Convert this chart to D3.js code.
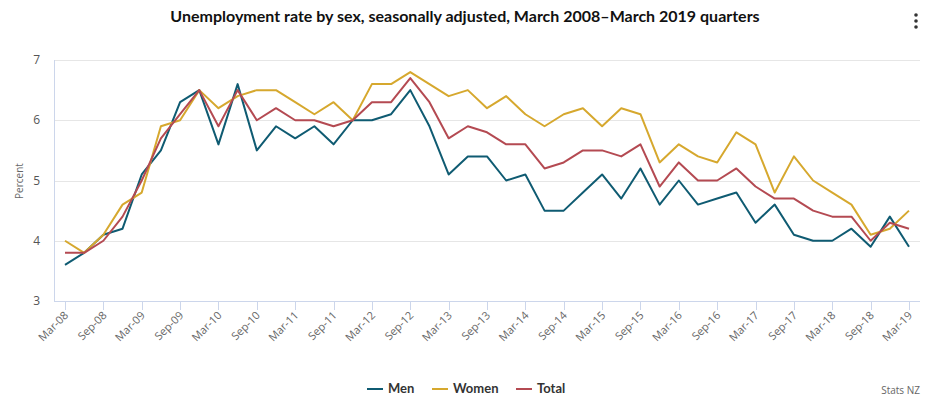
<!DOCTYPE html>
<html lang="en">
<head>
  <meta charset="UTF-8" />
  <title>Unemployment rate by sex</title>
  <script src="https://d3js.org/d3.v7.min.js"></script>
  <style>
    body { margin: 0; background: #fff; font-family: "Open Sans", "Liberation Sans", sans-serif; }
  </style>
</head>
<body>
  <div id="chart"></div>
  <script>
    // quarterly series, Mar-08 .. Mar-19
    const quarters = [];
    for (let y = 8; y <= 19; y++) {
      ["Mar", "Jun", "Sep", "Dec"].forEach(m => {
        if (y === 19 && m !== "Mar") return;
        quarters.push(`${m}-${String(y).padStart(2, "0")}`);
      });
    }
    const men = [3.6, 3.8, 4.1, 4.2, 5.1, 5.5, 6.3, 6.5, 5.6, 6.6, 5.5, 5.9, 5.7, 5.9, 5.6, 6.0,
      6.0, 6.1, 6.5, 5.9, 5.1, 5.4, 5.4, 5.0, 5.1, 4.5, 4.5, 4.8, 5.1, 4.7, 5.2, 4.6,
      5.0, 4.6, 4.7, 4.8, 4.3, 4.6, 4.1, 4.0, 4.0, 4.2, 3.9, 4.4, 3.9];
    const women = [4.0, 3.8, 4.1, 4.6, 4.8, 5.9, 6.0, 6.5, 6.2, 6.4, 6.5, 6.5, 6.3, 6.1, 6.3, 6.0,
      6.6, 6.6, 6.8, 6.6, 6.4, 6.5, 6.2, 6.4, 6.1, 5.9, 6.1, 6.2, 5.9, 6.2, 6.1, 5.3,
      5.6, 5.4, 5.3, 5.8, 5.6, 4.8, 5.4, 5.0, 4.8, 4.6, 4.1, 4.2, 4.5];
    const total = [3.8, 3.8, 4.0, 4.4, 5.0, 5.7, 6.1, 6.5, 5.9, 6.5, 6.0, 6.2, 6.0, 6.0, 5.9, 6.0,
      6.3, 6.3, 6.7, 6.3, 5.7, 5.9, 5.8, 5.6, 5.6, 5.2, 5.3, 5.5, 5.5, 5.4, 5.6, 4.9,
      5.3, 5.0, 5.0, 5.2, 4.9, 4.7, 4.7, 4.5, 4.4, 4.4, 4.0, 4.3, 4.2];
    const yTicks = [3, 4, 5, 6, 7];

    const series = [
      { name: "Men", values: men, color: "#0f5b72" },
      { name: "Women", values: women, color: "#d6a82e" },
      { name: "Total", values: total, color: "#b44a52" }
    ];

    const width = 930, height = 400;
    const plotLeft = 54, plotRight = 920, plotTop = 60, plotBottom = 301;

    const svg = d3.select("#chart").append("svg").attr("width", width).attr("height", height);

    const x = d3.scaleLinear().domain([0, quarters.length - 1]).range([65, 909]);
    const y = d3.scaleLinear().domain([3, 7]).range([plotBottom, plotTop]);

    // title
    svg.append("text")
      .attr("x", 465).attr("y", 22)
      .attr("text-anchor", "middle")
      .style("font-family", "Lato, sans-serif")
      .style("font-size", "16px").style("font-weight", "bold").style("fill", "#111")
      .text("Unemployment rate by sex, seasonally adjusted, March 2008\u2013March 2019 quarters");

    // menu dots
    [15, 21, 27].forEach(cy => svg.append("circle").attr("cx", 916).attr("cy", cy).attr("r", 1.8).attr("fill", "#333"));

    // gridlines
    svg.append("g").selectAll("line")
      .data(yTicks.filter(t => t > 3))
      .enter().append("line")
      .attr("x1", plotLeft).attr("x2", plotRight)
      .attr("y1", d => Math.round(y(d)) + 0.5).attr("y2", d => Math.round(y(d)) + 0.5)
      .attr("stroke", "#e6e6e6").attr("stroke-width", 1);

    // y axis
    svg.append("line").attr("x1", plotLeft + 0.5).attr("x2", plotLeft + 0.5).attr("y1", plotTop).attr("y2", plotBottom)
      .attr("stroke", "#ccd6eb");
    svg.append("g").selectAll("text")
      .data(yTicks)
      .enter().append("text")
      .attr("x", 40).attr("y", d => y(d) + 4)
      .attr("text-anchor", "end")
      .style("font-size", "12px").style("fill", "#555")
      .text(d => d);
    svg.append("text")
      .attr("transform", "translate(23,181) rotate(-90)")
      .attr("text-anchor", "middle")
      .style("font-size", "10px").style("fill", "#666")
      .text("Percent");

    // x axis
    svg.append("line").attr("x1", plotLeft).attr("x2", plotRight).attr("y1", plotBottom + 0.5).attr("y2", plotBottom + 0.5)
      .attr("stroke", "#ccd6eb");
    const tickIdx = quarters.map((q, i) => i).filter(i => i % 2 === 0);
    svg.append("g").selectAll("line")
      .data(tickIdx)
      .enter().append("line")
      .attr("x1", d => Math.round(x(d)) + 0.5).attr("x2", d => Math.round(x(d)) + 0.5)
      .attr("y1", plotBottom).attr("y2", plotBottom + 9)
      .attr("stroke", "#ccd6eb");
    svg.append("g").selectAll("text")
      .data(tickIdx)
      .enter().append("text")
      .attr("transform", d => `translate(${x(d) + 4},${plotBottom + 15}) rotate(-45)`)
      .attr("text-anchor", "end")
      .style("font-size", "11px").style("fill", "#666")
      .text(d => quarters[d]);

    // lines
    const line = d3.line().x((d, i) => x(i)).y(d => y(d));
    svg.append("g").selectAll("path")
      .data(series)
      .enter().append("path")
      .attr("d", d => line(d.values))
      .attr("fill", "none")
      .attr("stroke", d => d.color)
      .attr("stroke-width", 2)
      .attr("stroke-linejoin", "round");

    // legend
    const legendX = [367, 432, 516];
    const lg = svg.append("g").selectAll("g")
      .data(series)
      .enter().append("g")
      .attr("transform", (d, i) => `translate(${legendX[i]},389)`);
    lg.append("line").attr("x1", 0).attr("x2", 16).attr("y1", 0).attr("y2", 0)
      .attr("stroke", d => d.color).attr("stroke-width", 2);
    lg.append("text").attr("x", 21).attr("y", 4)
      .style("font-family", "Lato, sans-serif")
      .style("font-size", "13px").style("font-weight", "bold").style("fill", "#333")
      .text(d => d.name);

    svg.append("text")
      .attr("x", 920).attr("y", 394)
      .attr("text-anchor", "end")
      .style("font-size", "10px").style("fill", "#666")
      .text("Stats NZ");
  </script>
</body>
</html>
